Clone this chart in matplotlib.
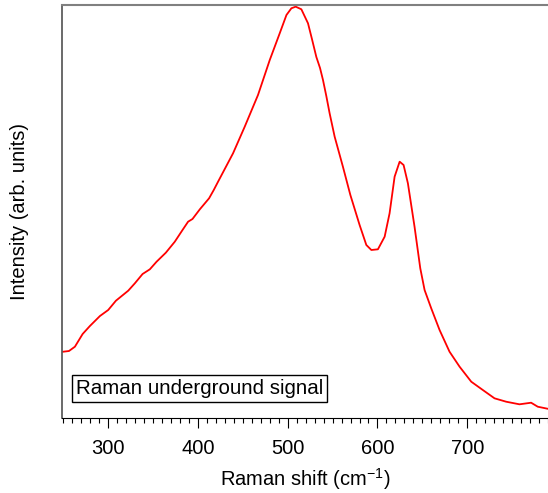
import numpy as np
import matplotlib
matplotlib.use("Agg")
import matplotlib.pyplot as plt
from matplotlib.ticker import MultipleLocator

plt.rcParams['font.family'] = ['Liberation Sans', 'DejaVu Sans']
plt.rcParams['mathtext.fontset'] = 'custom'
plt.rcParams['mathtext.rm'] = 'Liberation Sans'
plt.rcParams['mathtext.it'] = 'Liberation Sans:italic'

# Raman shift (cm-1) and intensity (arb. units)
shift = [249.9, 256.3, 262.9, 271.5, 279.6, 290.8, 300.0, 308.6, 322.3, 329.7,
         338.3, 346.4, 353.9, 364.2, 374.2, 382.8, 389.0, 393.9, 402.1, 412.4,
         417.6, 422.4, 439.1, 452.1, 466.9, 480.0, 491.1, 498.6, 504.1, 508.9,
         515.2, 522.6, 527.0, 531.9, 536.0, 539.3, 543.0, 546.7, 552.3, 561.5,
         569.8, 580.1, 587.6, 593.2, 600.5, 608.0, 613.5, 619.1, 624.7, 629.1,
         633.9, 641.3, 647.7, 652.5, 659.9, 669.2, 680.3, 691.5, 704.5, 717.4,
         730.4, 743.4, 758.2, 771.2, 778.6, 789.4]
intensity = [66.3, 67.0, 71.3, 84.0, 92.0, 102.0, 108.0, 117.3, 127.3, 134.7,
             144.0, 148.7, 156.3, 165.3, 176.3, 188.0, 196.3, 199.0, 208.7, 219.7,
             228.0, 236.3, 264.7, 291.3, 323.0, 358.0, 384.7, 403.0, 409.7, 411.3,
             408.7, 394.7, 379.0, 361.0, 350.0, 338.0, 322.0, 304.7, 281.3, 251.3,
             223.0, 193.0, 173.0, 168.0, 168.7, 181.3, 204.7, 241.3, 256.3, 253.0,
             234.7, 191.3, 149.7, 128.0, 109.7, 88.0, 66.3, 51.3, 36.3, 28.0,
             19.7, 16.3, 13.7, 15.3, 11.3, 9.3]

label_text = "Raman underground signal"

fig = plt.figure(figsize=(5.48, 4.93), dpi=100)
ax = fig.add_axes([0.1131, 0.1521, 0.8869, 0.8378])

ax.plot(shift, intensity, color='#ff0000', linewidth=1.3)

ax.set_xlim(248.5, 790)
ax.set_ylim(0, 413)

ax.xaxis.set_major_locator(MultipleLocator(100))
ax.xaxis.set_minor_locator(MultipleLocator(10))
ax.tick_params(axis='x', which='major', direction='out', length=7, width=0.8,
               labelsize=14.5, pad=8)
ax.tick_params(axis='x', which='minor', direction='out', length=3.5, width=0.8)
ax.set_yticks([])

ax.spines['right'].set_visible(False)
ax.spines['top'].set_color('#808080')
ax.spines['top'].set_linewidth(1.5)
ax.spines['left'].set_color('#505050')
ax.spines['left'].set_linewidth(1.2)
ax.spines['bottom'].set_color('black')
ax.spines['bottom'].set_linewidth(0.8)

ax.set_xlabel(r'Raman shift (cm$^{-1}$)', fontsize=14.5, labelpad=6)
ax.set_ylabel('Intensity (arb. units)', fontsize=14.5, labelpad=24)

ax.text(0.029, 0.048, label_text, transform=ax.transAxes, fontsize=14.8,
        ha='left', va='bottom',
        bbox=dict(boxstyle='square,pad=0.2', facecolor='white',
                  edgecolor='black', linewidth=1.0))

plt.savefig('out.png', dpi=100)
